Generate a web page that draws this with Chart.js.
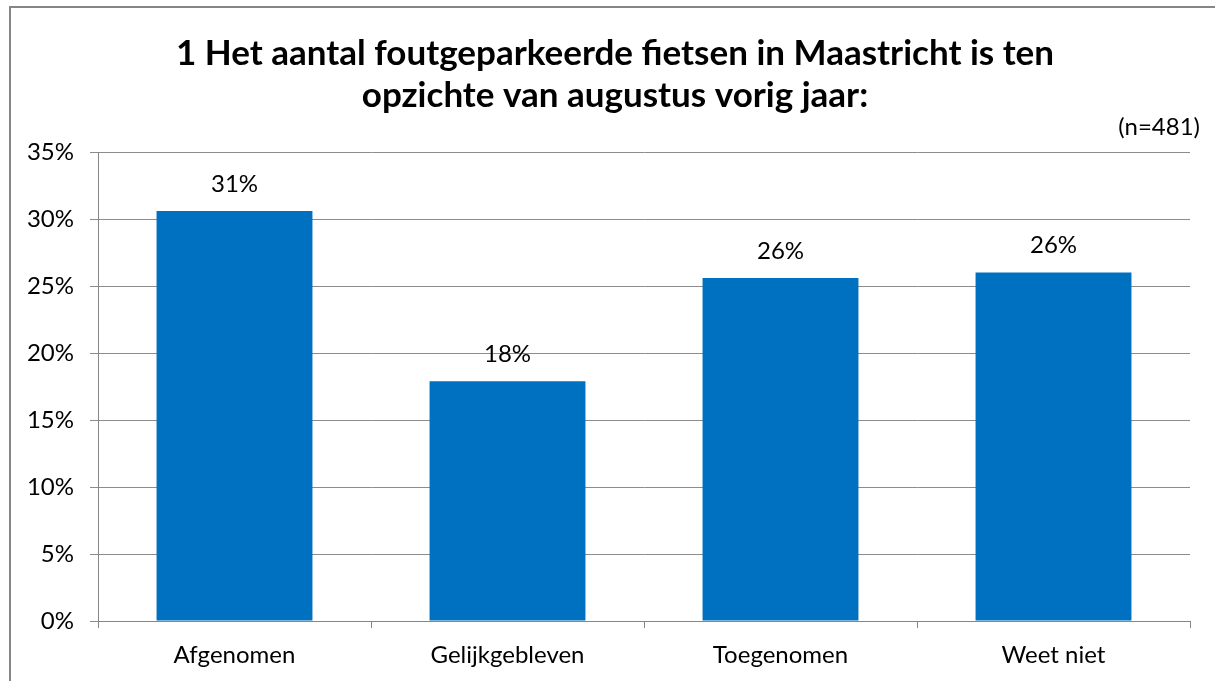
<!DOCTYPE html>
<html>
<head>
<meta charset="utf-8">
<script src="https://cdn.jsdelivr.net/npm/chart.js@4"></script>
<style>
  html, body { margin: 0; padding: 0; background: #fff; overflow: hidden; }
  #wrap { position: relative; width: 1215px; height: 681px; }
  #frame { position: absolute; left: 9px; top: 6px; width: 1300px; height: 800px; border: 2px solid #868686; box-sizing: border-box; }
  canvas { position: absolute; left: 0; top: 0; }
</style>
</head>
<body>
<div id="wrap">
  <div id="frame"></div>
  <canvas id="myBarChart" width="1215" height="681"></canvas>
</div>
<script>
var titleLines = ['1 Het aantal foutgeparkeerde fietsen in Maastricht is ten', 'opzichte van augustus vorig jaar:'];
var sampleNote = '(n=481)';
var categories = ['Afgenomen', 'Gelijkgebleven', 'Toegenomen', 'Weet niet'];
var shares = [30.6, 17.9, 25.6, 26.0];
var yTicks = [0, 5, 10, 15, 20, 25, 30, 35];

var fontFam = 'Lato, "Liberation Sans", sans-serif';

// value labels above the bars + the (n=...) note top right
var barLabels = {
  id: 'barLabels',
  afterDatasetsDraw: function (chart) {
    var ctx = chart.ctx;
    var meta = chart.getDatasetMeta(0);
    ctx.save();
    ctx.font = '24px ' + fontFam;
    ctx.fillStyle = '#000';
    ctx.textAlign = 'center';
    ctx.textBaseline = 'middle';
    meta.data.forEach(function (bar, i) {
      ctx.fillText(Math.round(shares[i]) + '%', bar.x, bar.y - 27);
    });
    ctx.textAlign = 'right';
    ctx.fillText(sampleNote, chart.chartArea.right + 10, 127);
    ctx.restore();
  }
};

document.addEventListener('DOMContentLoaded', function () {
  var ctx = document.getElementById('myBarChart').getContext('2d');
  new Chart(ctx, {
    type: 'bar',
    data: {
      labels: categories,
      datasets: [{
        data: shares,
        backgroundColor: '#0070C0',
        barPercentage: 0.571,
        categoryPercentage: 1
      }]
    },
    options: {
      responsive: false,
      animation: false,
      layout: { padding: { left: 28, right: 13, top: 0, bottom: 0 } },
      plugins: {
        legend: { display: false },
        tooltip: { enabled: false },
        title: {
          display: true,
          text: titleLines,
          color: '#000',
          font: { family: fontFam, size: 35, weight: 'bold', lineHeight: '42px' },
          padding: { top: 33, bottom: 35 }
        }
      },
      scales: {
        x: {
          afterFit: function (scale) { scale.height = 60; },
          border: { color: '#868686', width: 1 },
          grid: { display: true, drawOnChartArea: false, offset: true, tickLength: 7, color: '#868686' },
          ticks: { color: '#000', font: { family: fontFam, size: 24 }, padding: 13 }
        },
        y: {
          min: 0,
          max: 35,
          afterFit: function (scale) { scale.width = 70; },
          afterBuildTicks: function (scale) { scale.ticks = yTicks.map(function (v) { return { value: v }; }); },
          border: { color: '#868686', width: 1 },
          grid: { color: '#8c8c8c', lineWidth: 1, tickLength: 8 },
          ticks: {
            color: '#000',
            font: { family: fontFam, size: 24 },
            padding: 16,
            callback: function (v) { return v + '%'; }
          }
        },
        // empty spacer on the right so the plot ends where the original does
        yRight: {
          position: 'right',
          min: 0,
          max: 35,
          afterFit: function (scale) { scale.width = 12; },
          border: { display: false },
          grid: { display: false },
          ticks: { display: false }
        }
      }
    },
    plugins: [barLabels]
  });
});
</script>
</body>
</html>
